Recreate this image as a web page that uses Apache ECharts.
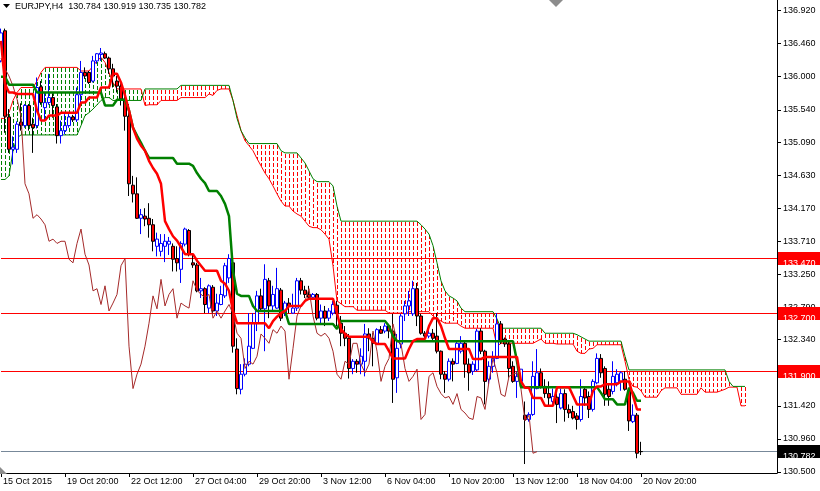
<!DOCTYPE html>
<html><head><meta charset="utf-8">
<script src="https://cdn.jsdelivr.net/npm/echarts@6/dist/echarts.min.js"></script>
<style>html,body{margin:0;padding:0;background:#fff}#c{width:820px;height:491px}</style>
</head><body><div id="c"></div>
<script>
const symbol = 'EURJPY,H4';
const timeLabels = ['15 Oct 2015','19 Oct 20:00','22 Oct 12:00','27 Oct 04:00','29 Oct 20:00','3 Nov 12:00','6 Nov 04:00','10 Nov 20:00','13 Nov 12:00','18 Nov 04:00','20 Nov 20:00'];
const barsPerLabel = 16;
const priceTicks = [130.500,130.960,131.420,131.880,132.340,132.790,133.250,133.710,134.170,134.630,135.090,135.540,136.000,136.460,136.920];

const open = [
136.22,136.64,135.44,134.99,134.99,135.37,135.32,135.60,135.34,135.32,
135.86,135.57,135.64,135.71,135.58,135.18,135.25,135.32,135.44,135.40,
135.75,136.06,136.06,135.94,136.22,136.31,136.32,136.26,136.11,135.94,
135.87,135.69,135.45,134.49,134.37,134.03,134.06,134.03,133.94,133.64,
133.57,133.64,133.67,133.64,133.47,133.32,133.67,133.86,133.41,133.38,
133.02,133.05,132.78,133.07,132.74,132.83,132.95,133.20,133.41,132.21,
131.65,131.86,132.00,132.22,132.57,132.95,132.77,133.16,132.81,132.78,
133.03,132.71,132.85,132.71,132.78,133.16,133.03,132.97,132.93,132.97,
132.64,132.74,132.64,132.71,132.82,132.57,132.43,132.36,131.94,132.04,
132.00,132.04,132.42,132.36,132.29,132.48,132.46,132.53,132.46,131.81,
132.28,132.70,132.81,132.70,133.05,132.67,132.43,132.39,132.43,132.39,
132.18,131.86,131.79,132.04,132.01,132.18,132.29,132.00,131.90,131.92,
132.46,132.18,131.79,131.97,132.08,132.56,132.35,132.28,131.97,131.76,
131.76,131.29,131.23,131.30,131.66,131.88,131.69,131.59,131.48,131.54,
131.39,131.59,131.37,131.34,131.28,131.23,131.65,131.55,131.37,131.74,
132.08,131.94,131.65,131.62,131.74,131.76,131.79,131.63,131.20,131.29,
130.784];
const high = [
136.67,136.67,135.55,135.17,135.38,135.63,135.62,135.62,135.43,135.99,
135.94,135.78,136.04,135.77,135.62,135.39,135.48,135.48,135.47,135.85,
136.22,136.13,136.08,136.29,136.33,136.40,136.35,136.28,136.18,136.01,
135.94,135.72,135.62,134.62,134.60,134.16,134.17,134.24,134.02,133.83,
133.81,133.81,133.77,133.68,133.64,133.71,133.90,133.88,133.53,133.41,
133.20,133.07,133.11,133.10,132.98,133.09,133.41,133.53,133.53,132.36,
132.00,132.08,132.71,132.71,133.02,133.05,133.39,133.20,133.09,133.34,
133.06,132.88,132.92,132.98,133.20,133.20,133.09,133.09,132.99,132.99,
132.83,132.81,132.78,132.88,132.88,132.67,132.53,132.42,132.07,132.07,
132.22,132.56,132.50,132.43,132.50,132.53,132.57,132.56,132.70,132.42,
132.70,132.88,133.02,133.16,133.13,132.70,132.46,132.49,132.49,132.71,
132.19,131.90,132.08,132.08,132.32,132.39,132.32,132.08,132.04,132.49,
132.50,132.20,132.04,132.18,132.71,132.60,132.37,132.32,132.04,131.90,
131.93,131.48,131.33,132.04,132.21,131.94,131.79,131.76,131.66,131.59,
131.66,131.65,131.44,131.42,131.32,131.79,131.69,131.62,131.79,132.15,
132.14,131.97,131.72,132.04,131.93,131.90,131.90,131.66,131.44,131.32,
130.919];
const low = [
136.20,135.22,134.94,134.78,134.94,135.25,135.29,135.25,134.94,135.28,
135.61,135.39,135.61,135.43,135.07,135.07,135.20,135.29,135.37,135.37,
135.62,135.97,135.90,135.92,136.18,136.22,136.25,136.04,135.85,135.78,
135.60,135.25,134.34,134.25,134.02,133.81,133.92,133.76,133.57,133.50,
133.50,133.42,133.52,133.29,133.29,133.13,133.64,133.50,133.34,133.00,
132.92,132.71,132.71,132.70,132.67,132.82,132.92,133.13,132.16,131.58,
131.58,131.83,131.97,132.21,132.46,132.74,132.18,132.64,132.74,132.77,
132.60,132.67,132.71,132.70,132.74,132.97,132.92,132.90,132.92,132.61,
132.56,132.53,132.60,132.68,132.53,132.25,132.25,131.80,131.86,131.88,
131.86,131.83,132.18,131.97,132.28,132.42,132.43,132.36,131.46,131.60,
132.22,132.60,132.67,132.67,132.53,132.41,132.36,132.36,132.32,132.15,
131.79,131.60,131.76,131.76,132.00,132.15,131.81,131.63,131.85,131.90,
132.14,131.44,131.72,131.88,132.07,132.28,132.24,131.81,131.74,131.53,
131.74,130.61,131.20,131.28,131.65,131.66,131.53,131.42,131.44,131.18,
131.37,131.20,131.25,131.23,131.09,131.20,131.42,131.25,131.34,131.72,
131.81,131.42,131.42,131.58,131.69,131.63,131.63,131.07,131.18,130.69,
130.735];
const close = [
136.61,135.45,134.99,135.02,135.34,135.32,135.60,135.32,135.29,135.85,
135.64,135.64,135.71,135.60,135.18,135.25,135.32,135.44,135.40,135.75,
136.06,136.01,135.92,136.22,136.32,136.33,136.26,136.11,136.01,135.87,
135.69,135.45,134.51,134.37,134.03,134.08,134.02,133.94,133.71,133.74,
133.68,133.71,133.71,133.46,133.41,133.68,133.88,133.53,133.38,133.02,
133.05,132.83,133.09,132.74,132.85,132.97,133.37,133.47,132.25,131.66,
131.86,132.00,132.25,132.57,132.95,132.77,133.18,132.81,132.97,133.05,
132.64,132.85,132.81,132.78,133.16,133.03,132.97,132.93,132.97,132.64,
132.74,132.64,132.74,132.83,132.70,132.43,132.36,131.94,132.04,132.00,
132.11,132.42,132.36,132.29,132.48,132.43,132.53,132.46,131.79,132.22,
132.67,132.81,132.88,133.05,132.67,132.43,132.39,132.43,132.36,132.18,
131.86,131.79,132.04,132.00,132.29,132.29,132.00,131.88,132.00,132.46,
132.18,131.76,131.97,132.08,132.56,132.32,132.28,131.94,131.76,131.83,
131.93,131.23,131.30,131.83,131.88,131.69,131.59,131.53,131.55,131.44,
131.59,131.37,131.32,131.25,131.23,131.55,131.53,131.37,131.76,132.08,
131.88,131.58,131.55,131.83,131.86,131.88,131.65,131.21,131.29,130.76,
130.782];

const tenkan = [
136.50,135.90,135.78,135.78,135.76,135.76,135.76,135.76,135.76,135.53,
135.39,135.39,135.46,135.46,135.46,135.50,135.50,135.50,135.50,135.50,
135.64,135.64,135.71,135.71,135.71,135.85,135.85,135.85,136.04,136.04,
135.92,135.74,135.53,135.29,135.14,135.04,134.97,134.83,134.73,134.65,
134.51,133.99,133.88,133.78,133.72,133.63,133.53,133.53,133.53,133.44,
133.37,133.30,133.30,133.30,133.30,133.16,133.12,133.02,132.74,132.57,
132.57,132.57,132.57,132.57,132.57,132.57,132.57,132.50,132.60,132.66,
132.71,132.74,132.81,132.81,132.81,132.81,132.88,132.91,132.91,132.91,
132.91,132.91,132.91,132.91,132.71,132.49,132.42,132.38,132.38,132.38,
132.38,132.38,132.38,132.31,132.28,132.28,132.28,132.18,132.08,132.08,
132.08,132.08,132.21,132.32,132.35,132.35,132.35,132.53,132.64,132.64,
132.53,132.36,132.21,132.21,132.21,132.21,132.21,132.21,132.07,132.07,
132.07,132.10,132.10,132.10,132.10,132.10,132.10,132.10,132.10,132.10,
131.76,131.67,131.67,131.53,131.53,131.53,131.42,131.42,131.42,131.68,
131.68,131.68,131.68,131.56,131.44,131.44,131.44,131.44,131.63,131.69,
131.69,131.72,131.72,131.72,131.72,131.76,131.76,131.76,131.56,131.37,
131.37];
const kijun = [
136.00,136.00,135.89,135.89,135.89,135.89,135.89,135.89,135.89,135.78,
135.78,135.78,135.78,135.78,135.78,135.78,135.78,135.78,135.78,135.78,
135.78,135.78,135.78,135.78,135.78,135.78,135.60,135.60,135.60,135.68,
135.68,135.68,135.53,135.29,135.18,135.08,134.97,134.87,134.87,134.87,
134.87,134.87,134.87,134.87,134.79,134.79,134.79,134.79,134.76,134.66,
134.58,134.52,134.41,134.41,134.41,134.34,134.23,134.06,133.30,132.98,
132.95,132.95,132.95,132.81,132.74,132.74,132.74,132.74,132.74,132.74,
132.74,132.74,132.56,132.56,132.56,132.56,132.56,132.56,132.56,132.56,
132.56,132.56,132.56,132.56,132.49,132.60,132.60,132.60,132.60,132.60,
132.60,132.60,132.60,132.60,132.60,132.60,132.60,132.53,132.39,132.32,
132.32,132.32,132.32,132.32,132.32,132.32,132.32,132.32,132.32,132.32,
132.32,132.32,132.32,132.32,132.32,132.32,132.32,132.32,132.32,132.32,
132.32,132.32,132.32,132.32,132.32,132.32,132.32,132.32,132.32,132.04,
131.68,131.68,131.68,131.68,131.68,131.68,131.68,131.68,131.68,131.68,
131.68,131.68,131.68,131.68,131.68,131.68,131.68,131.68,131.68,131.68,
131.60,131.51,131.51,131.51,131.44,131.44,131.44,131.67,131.60,131.49,
131.49];
const spanA = [
135.42,135.42,135.50,135.67,135.78,135.85,135.85,135.85,135.85,135.94,
136.06,136.13,136.13,136.13,136.13,136.13,136.13,136.13,136.13,136.13,
136.08,136.08,136.08,136.15,136.22,136.27,136.20,136.06,135.92,135.83,
135.83,135.83,135.83,135.83,135.83,135.83,135.60,135.61,135.61,135.61,
135.67,135.67,135.67,135.67,135.67,135.71,135.71,135.71,135.71,135.71,
135.71,135.71,135.76,135.74,135.81,135.83,135.83,135.83,135.67,135.46,
135.25,135.11,135.04,134.97,134.86,134.76,134.66,134.58,134.48,134.37,
134.27,134.20,134.20,134.13,134.09,134.06,133.99,133.92,133.90,133.90,
133.87,133.81,133.74,133.37,132.88,132.84,132.80,132.80,132.80,132.75,
132.75,132.75,132.75,132.75,132.75,132.75,132.75,132.71,132.71,132.71,
132.71,132.71,132.73,132.73,132.73,132.73,132.73,132.73,132.67,132.63,
132.60,132.57,132.57,132.57,132.57,132.53,132.50,132.50,132.50,132.50,
132.50,132.50,132.50,132.50,132.25,132.29,132.29,132.29,132.29,132.29,
132.29,132.29,132.29,132.29,132.32,132.35,132.29,132.29,132.29,132.28,
132.28,132.28,132.28,132.28,132.18,132.15,132.15,132.21,132.22,132.27,
132.27,132.27,132.27,132.27,132.27,132.27,132.04,131.79,131.69,131.68,
131.63,131.54,131.54,131.54,131.54,131.63,131.67,131.67,131.67,131.67,
131.58,131.58,131.58,131.58,131.58,131.67,131.61,131.61,131.61,131.61,
131.63,131.65,131.68,131.68,131.68,131.42,131.42];
const spanB = [
134.57,134.57,134.62,134.97,135.15,135.19,135.19,135.19,135.19,135.19,
135.19,135.19,135.19,135.19,135.19,135.19,135.19,135.19,135.19,135.19,
135.32,135.46,135.50,135.55,135.61,135.67,135.71,135.71,135.67,135.67,
135.67,135.67,135.67,135.67,135.67,135.67,135.83,135.83,135.83,135.83,
135.83,135.83,135.83,135.83,135.83,135.88,135.88,135.88,135.88,135.88,
135.88,135.88,135.88,135.88,135.88,135.88,135.88,135.88,135.67,135.42,
135.25,135.15,135.07,135.07,135.07,135.07,135.07,135.07,135.07,135.07,
134.97,134.94,134.94,134.94,134.94,134.87,134.80,134.69,134.58,134.54,
134.54,134.54,134.54,134.48,134.20,133.99,133.99,133.99,133.99,133.99,
133.99,133.99,133.99,133.99,133.99,133.99,133.99,133.99,133.99,133.99,
133.99,133.99,133.99,133.99,133.99,133.94,133.88,133.81,133.65,133.41,
133.16,133.02,132.95,132.92,132.88,132.78,132.73,132.73,132.73,132.73,
132.73,132.73,132.73,132.73,132.63,132.50,132.50,132.50,132.50,132.50,
132.50,132.50,132.50,132.50,132.50,132.50,132.43,132.43,132.43,132.43,
132.43,132.43,132.43,132.43,132.41,132.38,132.35,132.32,132.32,132.32,
132.32,132.32,132.32,132.32,132.32,132.32,132.11,131.92,131.92,131.92,
131.92,131.92,131.92,131.92,131.92,131.92,131.92,131.92,131.92,131.92,
131.92,131.92,131.92,131.92,131.92,131.92,131.92,131.92,131.92,131.92,
131.92,131.92,131.76,131.69,131.69,131.69,131.69];
// lagging span: closes drawn 26 bars back
const chikouShift = 26;
const chikou = close.slice(chikouShift);
const levels = [133.470, 132.700, 131.900];
const bid = 130.782;

const nSlots = 195;
const isLabel = i => i % barsPerLabel === 0 && (i / barsPerLabel) < timeLabels.length;
const cats = [];
for (let i = 0; i < nSlots; i++) cats.push(isLabel(i) ? timeLabels[i / barsPerLabel] : 'b' + i);
const candles = open.map((o, i) => [o, close[i], low[i], high[i]]);
const cloud = spanA.map((a, i) => [i, a, spanB[i]]);
const levelData = levels.concat([bid]).map(v => [0, v]);
const last = close.length - 1;
const header = symbol + '  ' + open[last].toFixed(3) + ' ' + high[last].toFixed(3) + ' ' + low[last].toFixed(3) + ' ' + close[last].toFixed(3);
const FONT = 'Liberation Sans, Arial, sans-serif';

const chart = echarts.init(document.getElementById('c'));
const lineS = (data, color, width, z) => ({
  type: 'line', data, symbol: 'none', showSymbol: false, silent: true, z,
  itemStyle: { color }, lineStyle: { color, width }, animation: false
});
const levelSeries = (z, withLine, withBox) => ({
  type: 'custom', data: levelData, z, silent: true, clip: false,
  encode: { x: 0, y: 1 },
  renderItem: (params, api) => {
    const v = api.value(1);
    const isBid = params.dataIndex === levels.length;
    const cs = params.coordSys;
    const y = Math.floor(api.coord([0, v])[1]);
    const children = [];
    if (withLine) children.push({ type: 'rect', shape: { x: cs.x, y: y, width: cs.width, height: 1 }, style: { fill: isBid ? '#778899' : '#ff0000' } });
    if (withBox) {
      children.push({ type: 'rect', shape: { x: cs.x + cs.width + 1, y: y - 6, width: 42, height: 13 }, style: { fill: isBid ? '#000000' : '#ff0000' } });
      children.push({ type: 'text', x: cs.x + cs.width + 6, y: y + 1, style: { text: v.toFixed(3), fill: '#ffffff', font: '9px ' + FONT, textBaseline: 'middle', textAlign: 'left' } });
    }
    return { type: 'group', children };
  }
});
chart.setOption({
  animation: false,
  backgroundColor: '#ffffff',
  textStyle: { fontFamily: FONT },
  grid: { left: 0, right: 43, top: 0, bottom: 18 },
  xAxis: {
    type: 'category', data: cats, boundaryGap: false,
    axisLine: { show: true, lineStyle: { color: '#000', width: 1 } },
    axisTick: { show: true, interval: i => isLabel(i), length: 4, lineStyle: { color: '#000' } },
    axisLabel: { show: true, interval: i => isLabel(i), color: '#000', fontSize: 9, fontFamily: FONT, align: 'left', margin: 4, padding: [0, 0, 0, 2] },
    splitLine: { show: false }
  },
  yAxis: {
    type: 'value', position: 'right', min: 130.485, max: 137.068,
    axisLine: { show: true, lineStyle: { color: '#000', width: 1 } },
    axisTick: { show: true, customValues: priceTicks, length: 4, lineStyle: { color: '#000' } },
    axisLabel: { show: true, customValues: priceTicks, formatter: v => v.toFixed(3), color: '#000', fontSize: 9, fontFamily: FONT, margin: 6 },
    splitLine: { show: false }
  },
  graphic: [
    { type: 'polygon', shape: { points: [[3, 4], [10, 4], [6.5, 8]] }, style: { fill: '#000' }, z: 100 },
    { type: 'text', left: 15, top: 2, style: { text: header, font: '9px ' + FONT, fill: '#000' }, z: 100 },
    { type: 'polygon', shape: { points: [[549, 0], [563, 0], [556, 7]] }, style: { fill: '#8c8c8c' }, z: 100 },
    { type: 'polygon', shape: { points: [[0, 467], [7, 474], [0, 474]] }, style: { fill: '#8c8c8c' }, z: 100 }
  ],
  series: [
    {
      // cloud hatching: dotted vertical strokes between span A and span B
      type: 'custom', data: cloud, z: 1, silent: true, clip: true,
      encode: { x: 0, y: [1, 2] },
      renderItem: (params, api) => {
        const i = api.value(0), a = api.value(1), b = api.value(2);
        const p1 = api.coord([i, a]), p2 = api.coord([i, b]);
        const x = Math.round(p1[0]);
        const top = Math.round(Math.min(p1[1], p2[1])), bot = Math.round(Math.max(p1[1], p2[1]));
        const col = a >= b ? '#008000' : '#ff0000';
        const children = [];
        for (let y = top + 1; y < bot; y += 6) {
          children.push({ type: 'rect', shape: { x: x, y: y, width: 1, height: Math.min(4, bot - y) }, style: { fill: col } });
        }
        return { type: 'group', children };
      }
    },
    levelSeries(1.5, true, false),
    lineS(spanA, '#ff0000', 1, 2),
    lineS(spanB, '#008000', 1, 2),
    {
      type: 'candlestick', data: candles, z: 3, barWidth: 3, silent: true,
      itemStyle: { color: '#ffffff', color0: '#ff0000', borderColor: '#0000ff', borderColor0: '#000000', borderWidth: 1 }
    },
    lineS(chikou, '#a52a2a', 1, 4),
    lineS(kijun, '#008000', 2.5, 5),
    lineS(tenkan, '#ff0000', 2.5, 6),
    levelSeries(8, false, true)
  ]
});
</script>
</body></html>
